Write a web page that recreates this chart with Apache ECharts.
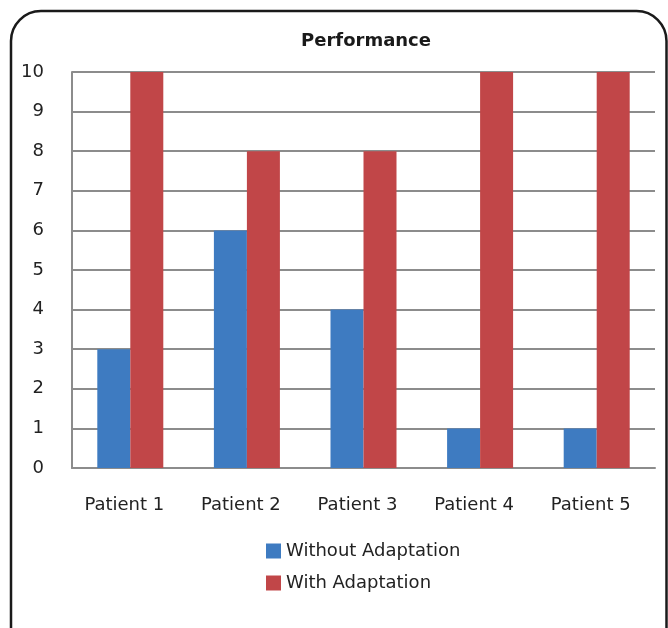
<!DOCTYPE html>
<html>
<head>
<meta charset="utf-8">
<script src="https://cdn.jsdelivr.net/npm/echarts@6/dist/echarts.min.js"></script>
<style>
html,body{margin:0;padding:0;background:#fff;}
#chart{width:668px;height:628px;}
</style>
</head>
<body>
<div id="chart"></div>
<script>
const categories = ['Patient 1', 'Patient 2', 'Patient 3', 'Patient 4', 'Patient 5'];
const withoutAdaptation = [3, 6, 4, 1, 1];
const withAdaptation = [10, 8, 8, 10, 10];
const seriesNames = ['Without Adaptation', 'With Adaptation'];

const chart = echarts.init(document.getElementById('chart'), null, {renderer: 'canvas'});
const font = 'DejaVu Sans, Liberation Sans, Arial, sans-serif';
chart.setOption({
  animation: false,
  graphic: [{
    type: 'rect',
    shape: {x: 11, y: 11, width: 655.5, height: 650, r: 30},
    style: {fill: 'none', stroke: '#1a1a1a', lineWidth: 2.5},
    silent: true, z: 100
  }],
  title: {
    text: 'Performance',
    left: 361, textAlign: 'center', top: 27,
    textStyle: {fontFamily: font, fontSize: 18, fontWeight: 'bold', color: '#1a1a1a'}
  },
  legend: {
    orient: 'vertical',
    left: 261, top: 537,
    itemWidth: 15, itemHeight: 15, itemGap: 14,
    icon: 'rect',
    textStyle: {fontFamily: font, fontSize: 18, color: '#222'},
    data: seriesNames
  },
  grid: {left: 72, right: 13, top: 72, bottom: 160, containLabel: false},
  xAxis: {
    type: 'category',
    data: categories,
    axisLine: {show: true, lineStyle: {color: '#8c8c8c', width: 2}},
    axisTick: {show: false},
    axisLabel: {fontFamily: font, fontSize: 18, color: '#222', margin: 28, padding: [0, 12, 0, 0]}
  },
  yAxis: {
    type: 'value',
    min: 0, max: 10, interval: 1,
    axisLine: {show: true, lineStyle: {color: '#8c8c8c', width: 2}},
    axisTick: {show: false},
    splitLine: {show: true, lineStyle: {color: '#8c8c8c', width: 2}},
    axisLabel: {fontFamily: font, fontSize: 18, color: '#222', margin: 28}
  },
  series: [{
    name: seriesNames[0], type: 'bar', data: withoutAdaptation,
    barWidth: 33, barGap: '0%',
    itemStyle: {color: '#3E7BC1'}
  }, {
    name: seriesNames[1], type: 'bar', data: withAdaptation,
    barWidth: 33, barGap: '0%',
    itemStyle: {color: '#C14648'}
  }]
});
</script>
</body>
</html>
